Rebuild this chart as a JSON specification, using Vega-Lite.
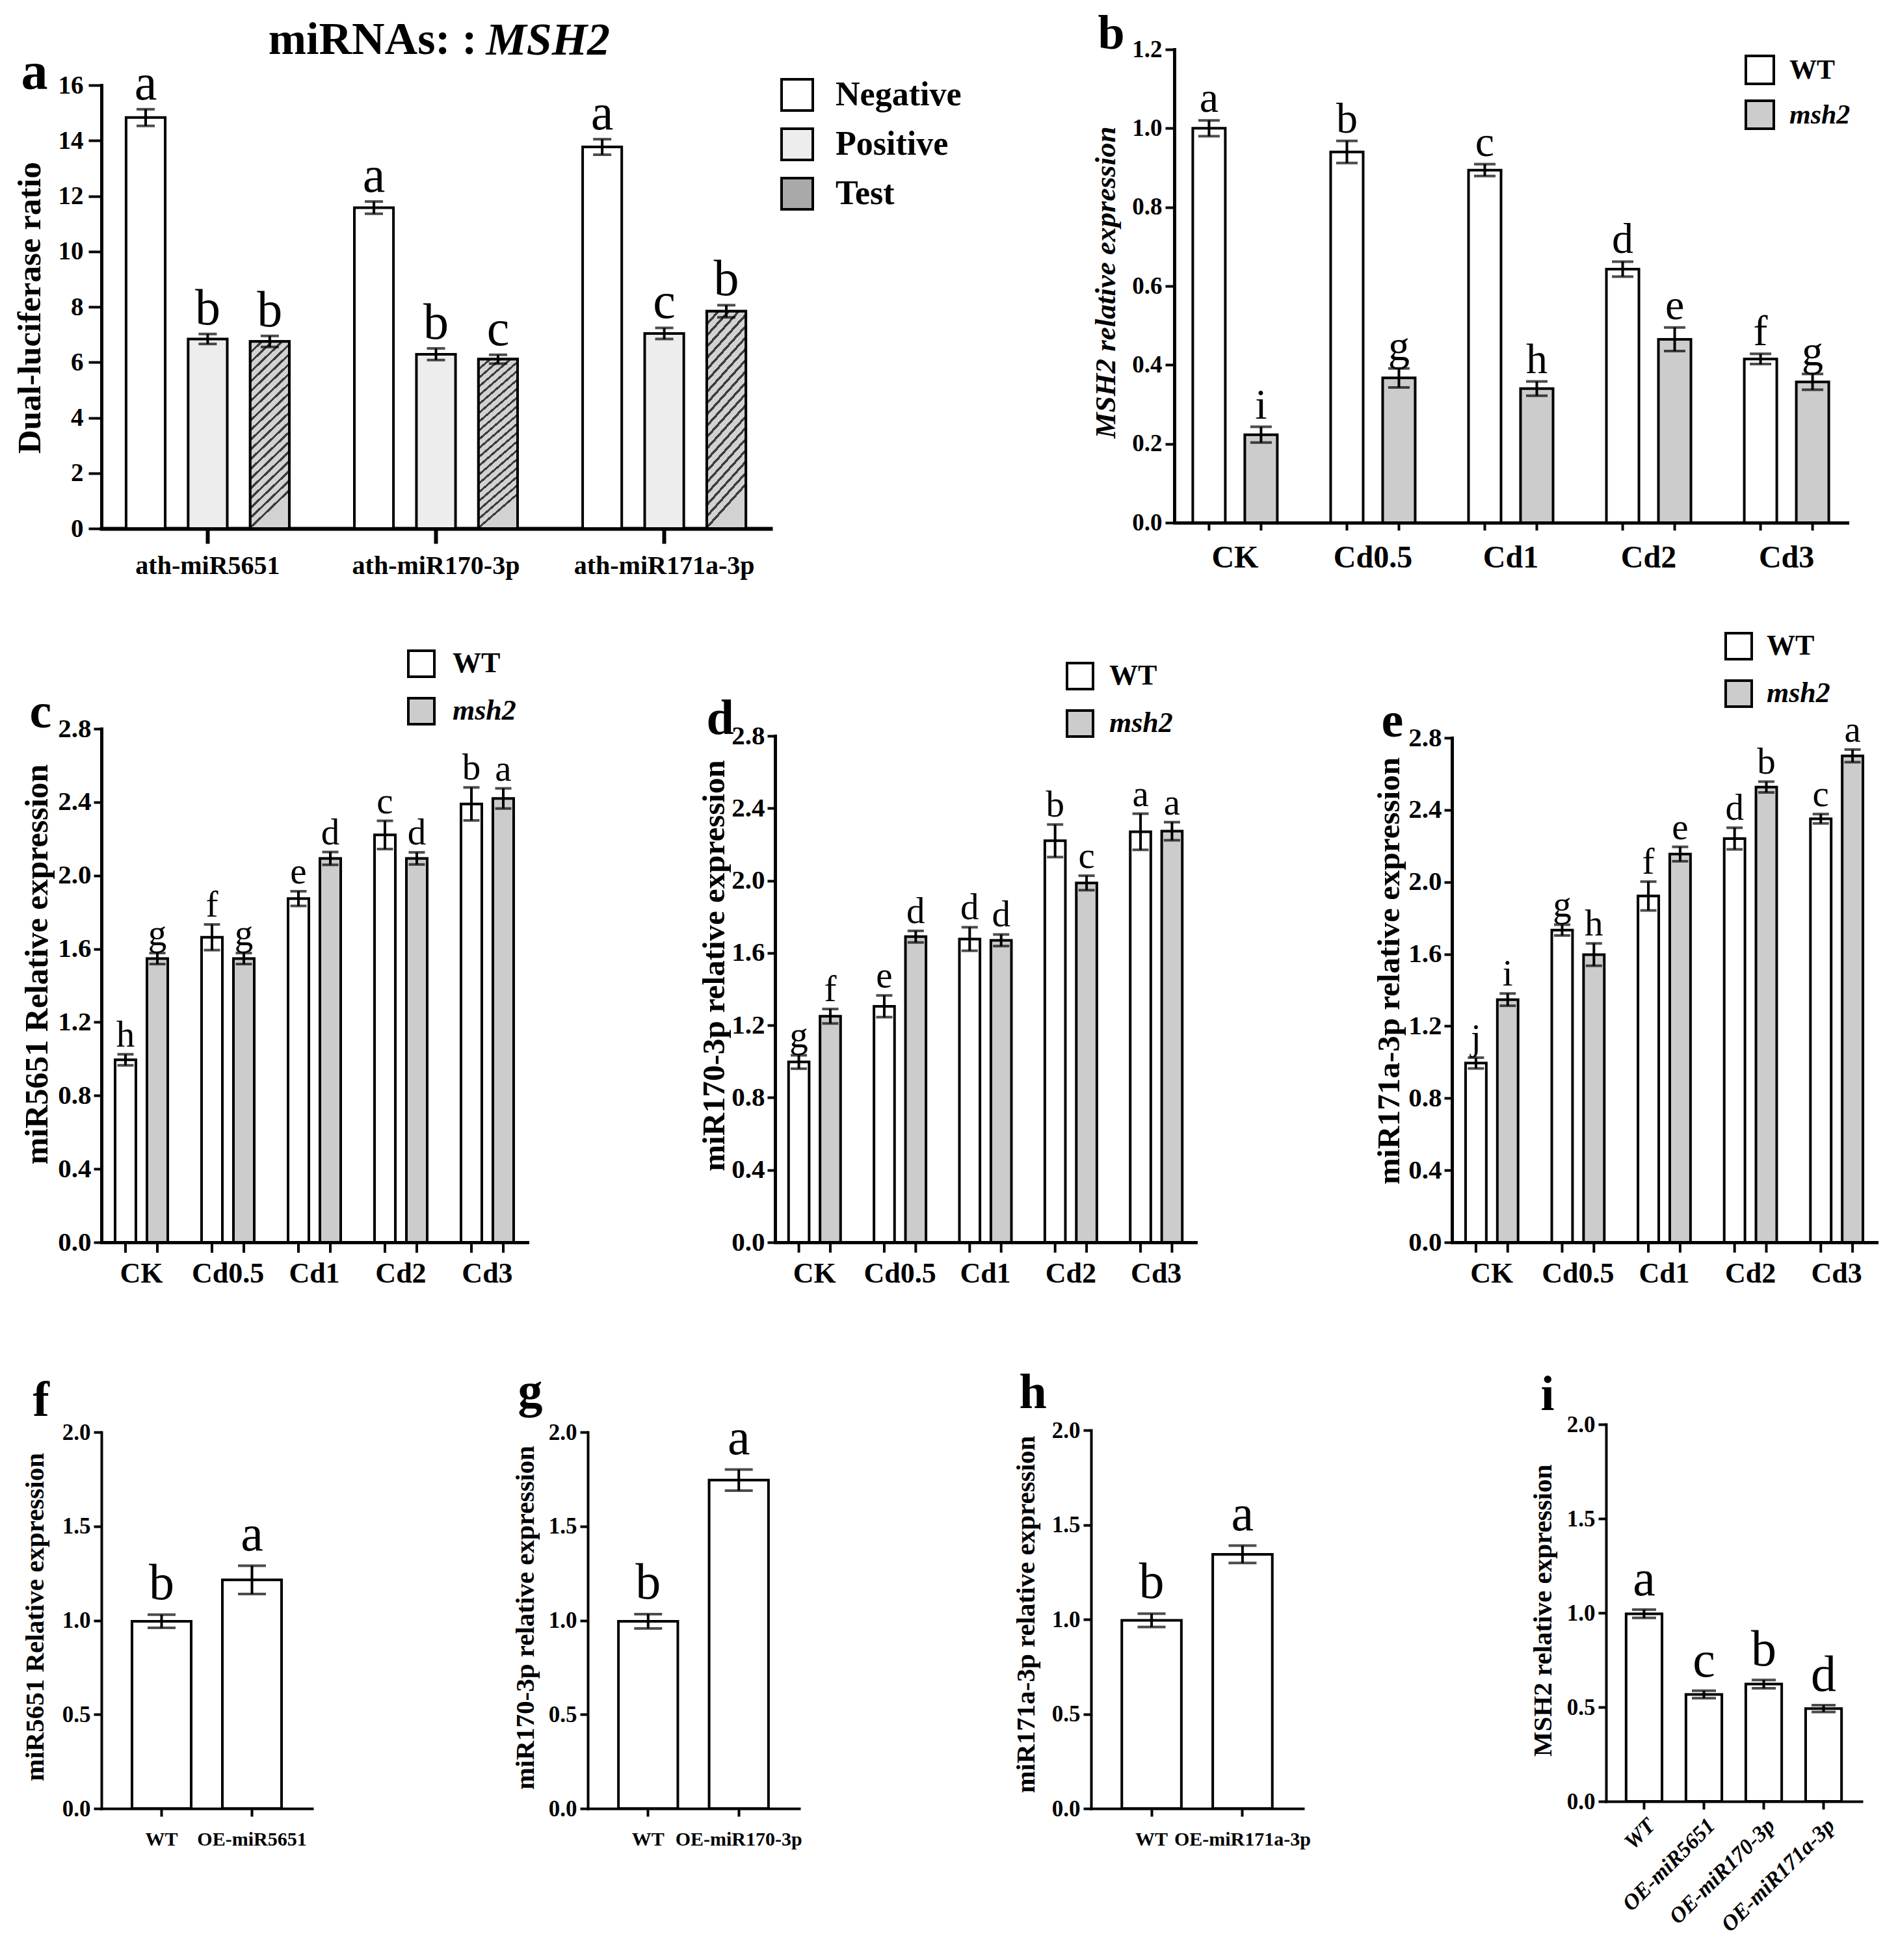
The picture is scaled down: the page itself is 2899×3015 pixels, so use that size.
{
  "$schema": "https://vega.github.io/schema/vega-lite/v6.json",
  "background": "white",
  "padding": {"left": 20, "top": 15, "right": 10, "bottom": 10},
  "config": {
    "view": {"stroke": null},
    "axis": {
      "domainColor": "black", "tickColor": "black", "labelColor": "black", "titleColor": "black",
      "labelFont": "Liberation Serif", "titleFont": "Liberation Serif",
      "labelFontWeight": "bold", "titleFontWeight": "bold", "grid": false,
      "labelLimit": 0, "titleLimit": 0, "labelOverlap": false, "domainCap": "square",
      "titleBaseline": "alphabetic"
    },
    "legend": {"labelLimit": 0, "labelFont": "Liberation Serif", "labelFontWeight": "bold", "labelColor": "black"},
    "text": {"font": "Liberation Serif", "color": "black"}
  },
  "datasets": {
    "A": [
      {"c": "ath-miR5651", "g": "Negative", "v": 14.83, "lo": 14.53, "hi": 15.13, "l": "a"},
      {"c": "ath-miR5651", "g": "Positive", "v": 6.84, "lo": 6.66, "hi": 7.02, "l": "b"},
      {"c": "ath-miR5651", "g": "Test", "v": 6.75, "lo": 6.55, "hi": 6.95, "l": "b"},
      {"c": "ath-miR170-3p", "g": "Negative", "v": 11.58, "lo": 11.36, "hi": 11.8, "l": "a"},
      {"c": "ath-miR170-3p", "g": "Positive", "v": 6.29, "lo": 6.08, "hi": 6.5, "l": "b"},
      {"c": "ath-miR170-3p", "g": "Test", "v": 6.11, "lo": 5.95, "hi": 6.27, "l": "c"},
      {"c": "ath-miR171a-3p", "g": "Negative", "v": 13.77, "lo": 13.49, "hi": 14.05, "l": "a"},
      {"c": "ath-miR171a-3p", "g": "Positive", "v": 7.04, "lo": 6.84, "hi": 7.24, "l": "c"},
      {"c": "ath-miR171a-3p", "g": "Test", "v": 7.84, "lo": 7.62, "hi": 8.06, "l": "b"}
    ],
    "B": [
      {"c": "CK", "g": "WT", "v": 1.0, "lo": 0.98, "hi": 1.02, "l": "a"},
      {"c": "CK", "g": "msh2", "v": 0.223, "lo": 0.203, "hi": 0.243, "l": "i"},
      {"c": "Cd0.5", "g": "WT", "v": 0.94, "lo": 0.912, "hi": 0.968, "l": "b"},
      {"c": "Cd0.5", "g": "msh2", "v": 0.367, "lo": 0.343, "hi": 0.391, "l": "g"},
      {"c": "Cd1", "g": "WT", "v": 0.894, "lo": 0.879, "hi": 0.909, "l": "c"},
      {"c": "Cd1", "g": "msh2", "v": 0.34, "lo": 0.322, "hi": 0.358, "l": "h"},
      {"c": "Cd2", "g": "WT", "v": 0.643, "lo": 0.624, "hi": 0.662, "l": "d"},
      {"c": "Cd2", "g": "msh2", "v": 0.465, "lo": 0.435, "hi": 0.495, "l": "e"},
      {"c": "Cd3", "g": "WT", "v": 0.415, "lo": 0.402, "hi": 0.428, "l": "f"},
      {"c": "Cd3", "g": "msh2", "v": 0.357, "lo": 0.337, "hi": 0.377, "l": "g"}
    ],
    "C": [
      {"c": "CK", "g": "WT", "v": 0.995, "lo": 0.965, "hi": 1.025, "l": "h"},
      {"c": "CK", "g": "msh2", "v": 1.547, "lo": 1.517, "hi": 1.577, "l": "g"},
      {"c": "Cd0.5", "g": "WT", "v": 1.663, "lo": 1.593, "hi": 1.733, "l": "f"},
      {"c": "Cd0.5", "g": "msh2", "v": 1.547, "lo": 1.517, "hi": 1.577, "l": "g"},
      {"c": "Cd1", "g": "WT", "v": 1.874, "lo": 1.834, "hi": 1.914, "l": "e"},
      {"c": "Cd1", "g": "msh2", "v": 2.093, "lo": 2.058, "hi": 2.128, "l": "d"},
      {"c": "Cd2", "g": "WT", "v": 2.221, "lo": 2.144, "hi": 2.298, "l": "c"},
      {"c": "Cd2", "g": "msh2", "v": 2.093, "lo": 2.06, "hi": 2.126, "l": "d"},
      {"c": "Cd3", "g": "WT", "v": 2.39, "lo": 2.3, "hi": 2.48, "l": "b"},
      {"c": "Cd3", "g": "msh2", "v": 2.42, "lo": 2.365, "hi": 2.475, "l": "a"}
    ],
    "D": [
      {"c": "CK", "g": "WT", "v": 0.997, "lo": 0.96, "hi": 1.034, "l": "g"},
      {"c": "CK", "g": "msh2", "v": 1.25, "lo": 1.21, "hi": 1.29, "l": "f"},
      {"c": "Cd0.5", "g": "WT", "v": 1.305, "lo": 1.245, "hi": 1.365, "l": "e"},
      {"c": "Cd0.5", "g": "msh2", "v": 1.69, "lo": 1.658, "hi": 1.722, "l": "d"},
      {"c": "Cd1", "g": "WT", "v": 1.677, "lo": 1.612, "hi": 1.742, "l": "d"},
      {"c": "Cd1", "g": "msh2", "v": 1.67, "lo": 1.638, "hi": 1.702, "l": "d"},
      {"c": "Cd2", "g": "WT", "v": 2.22, "lo": 2.13, "hi": 2.31, "l": "b"},
      {"c": "Cd2", "g": "msh2", "v": 1.987, "lo": 1.947, "hi": 2.027, "l": "c"},
      {"c": "Cd3", "g": "WT", "v": 2.27, "lo": 2.17, "hi": 2.37, "l": "a"},
      {"c": "Cd3", "g": "msh2", "v": 2.273, "lo": 2.223, "hi": 2.323, "l": "a"}
    ],
    "E": [
      {"c": "CK", "g": "WT", "v": 0.995, "lo": 0.965, "hi": 1.025, "l": "j"},
      {"c": "CK", "g": "msh2", "v": 1.347, "lo": 1.313, "hi": 1.381, "l": "i"},
      {"c": "Cd0.5", "g": "WT", "v": 1.733, "lo": 1.703, "hi": 1.763, "l": "g"},
      {"c": "Cd0.5", "g": "msh2", "v": 1.597, "lo": 1.535, "hi": 1.659, "l": "h"},
      {"c": "Cd1", "g": "WT", "v": 1.922, "lo": 1.842, "hi": 2.002, "l": "f"},
      {"c": "Cd1", "g": "msh2", "v": 2.155, "lo": 2.115, "hi": 2.195, "l": "e"},
      {"c": "Cd2", "g": "WT", "v": 2.241, "lo": 2.181, "hi": 2.301, "l": "d"},
      {"c": "Cd2", "g": "msh2", "v": 2.527, "lo": 2.497, "hi": 2.557, "l": "b"},
      {"c": "Cd3", "g": "WT", "v": 2.351, "lo": 2.325, "hi": 2.377, "l": "c"},
      {"c": "Cd3", "g": "msh2", "v": 2.7, "lo": 2.665, "hi": 2.735, "l": "a"}
    ],
    "F": [
      {"c": "WT", "v": 0.995, "lo": 0.96, "hi": 1.03, "l": "b"},
      {"c": "OE-miR5651", "v": 1.215, "lo": 1.14, "hi": 1.29, "l": "a"}
    ],
    "G": [
      {"c": "WT", "v": 0.995, "lo": 0.957, "hi": 1.033, "l": "b"},
      {"c": "OE-miR170-3p", "v": 1.745, "lo": 1.689, "hi": 1.801, "l": "a"}
    ],
    "H": [
      {"c": "WT", "v": 0.995, "lo": 0.96, "hi": 1.03, "l": "b"},
      {"c": "OE-miR171a-3p", "v": 1.344, "lo": 1.298, "hi": 1.39, "l": "a"}
    ],
    "I": [
      {"c": "WT", "v": 0.995, "lo": 0.973, "hi": 1.017, "l": "a"},
      {"c": "OE-miR5651", "v": 0.567, "lo": 0.547, "hi": 0.587, "l": "c"},
      {"c": "OE-miR170-3p", "v": 0.622, "lo": 0.6, "hi": 0.644, "l": "b"},
      {"c": "OE-miR171a-3p", "v": 0.492, "lo": 0.474, "hi": 0.51, "l": "d"}
    ]
  },
  "columns": 7,
  "align": "each",
  "bounds": "flush",
  "spacing": {"row": 280, "column": 0},
  "resolve": {"scale": {"fill": "independent", "xOffset": "independent", "x": "independent", "y": "independent"}, "legend": {"fill": "independent"}},
  "concat": [
    {
      "width": 748, "height": 737,
      "data": {"name": "A"},
      "encoding": {
        "x": {"field": "c", "type": "nominal", "sort": null, "scale": {"paddingInner": 0.285, "paddingOuter": 0.108, "range": [0, 1029]}, "axis": null},
        "xOffset": {"field": "g", "type": "nominal", "sort": ["Negative", "Positive", "Test"], "scale": {"paddingInner": 0.37, "paddingOuter": 0}}
      },
      "layer": [
        {
          "mark": {"type": "bar", "stroke": "black", "strokeWidth": 4},
          "encoding": {
            "x": {"field": "c", "type": "nominal", "sort": null, "scale": {"paddingInner": 0.285, "paddingOuter": 0.108, "range": [0, 1029]},
              "axis": {"title": null, "labelAngle": 0, "labelFontSize": 40, "labelPadding": 14, "tickSize": 23, "tickWidth": 6, "domainWidth": 6}},
            "y": {"field": "v", "type": "quantitative", "scale": {"domain": [0, 16], "nice": false, "range": [737, 55]},
              "axis": {"values": [0, 2, 4, 6, 8, 10, 12, 14, 16], "title": "Dual-luciferase ratio", "titleFontSize": 51, "titleX": -95, "titleY": 397,
                "tickSize": 20, "tickWidth": 4, "domainWidth": 5, "labelFontSize": 39, "labelPadding": 8}},
            "fill": {"field": "g", "type": "nominal", "sort": ["Negative", "Positive", "Test"],
              "scale": {"domain": ["Negative", "Positive", "Test"], "range": ["#ffffff", "#ededed", "#a9a9a9"]},
              "legend": {"orient": "none", "legendX": 1044, "legendY": 44, "title": null, "direction": "vertical", "symbolType": "square", "symbolSize": 2304,
                "symbolStrokeWidth": 4, "symbolStrokeColor": "black", "symbolOpacity": 1, "labelFontSize": 52, "labelOffset": 33, "rowPadding": 12}}
          }
        },
        {
          "transform": [{"filter": "datum.g === 'Test'"}],
          "mark": {"type": "bar", "stroke": "black", "strokeWidth": 4,
            "fill": {"gradient": "linear", "x1": 0, "y1": 0, "x2": 0.2, "y2": 1, "stops": [
              {"offset": 0, "color": "#3c3c3c"}, {"offset": 0.015, "color": "#3c3c3c"}, {"offset": 0.015, "color": "#d2d2d2"}, {"offset": 0.05, "color": "#d2d2d2"},
              {"offset": 0.05, "color": "#3c3c3c"}, {"offset": 0.065, "color": "#3c3c3c"}, {"offset": 0.065, "color": "#d2d2d2"}, {"offset": 0.1, "color": "#d2d2d2"},
              {"offset": 0.1, "color": "#3c3c3c"}, {"offset": 0.115, "color": "#3c3c3c"}, {"offset": 0.115, "color": "#d2d2d2"}, {"offset": 0.15, "color": "#d2d2d2"},
              {"offset": 0.15, "color": "#3c3c3c"}, {"offset": 0.165, "color": "#3c3c3c"}, {"offset": 0.165, "color": "#d2d2d2"}, {"offset": 0.2, "color": "#d2d2d2"},
              {"offset": 0.2, "color": "#3c3c3c"}, {"offset": 0.215, "color": "#3c3c3c"}, {"offset": 0.215, "color": "#d2d2d2"}, {"offset": 0.25, "color": "#d2d2d2"},
              {"offset": 0.25, "color": "#3c3c3c"}, {"offset": 0.265, "color": "#3c3c3c"}, {"offset": 0.265, "color": "#d2d2d2"}, {"offset": 0.3, "color": "#d2d2d2"},
              {"offset": 0.3, "color": "#3c3c3c"}, {"offset": 0.315, "color": "#3c3c3c"}, {"offset": 0.315, "color": "#d2d2d2"}, {"offset": 0.35, "color": "#d2d2d2"},
              {"offset": 0.35, "color": "#3c3c3c"}, {"offset": 0.365, "color": "#3c3c3c"}, {"offset": 0.365, "color": "#d2d2d2"}, {"offset": 0.4, "color": "#d2d2d2"},
              {"offset": 0.4, "color": "#3c3c3c"}, {"offset": 0.415, "color": "#3c3c3c"}, {"offset": 0.415, "color": "#d2d2d2"}, {"offset": 0.45, "color": "#d2d2d2"},
              {"offset": 0.45, "color": "#3c3c3c"}, {"offset": 0.465, "color": "#3c3c3c"}, {"offset": 0.465, "color": "#d2d2d2"}, {"offset": 0.5, "color": "#d2d2d2"},
              {"offset": 0.5, "color": "#3c3c3c"}, {"offset": 0.515, "color": "#3c3c3c"}, {"offset": 0.515, "color": "#d2d2d2"}, {"offset": 0.55, "color": "#d2d2d2"},
              {"offset": 0.55, "color": "#3c3c3c"}, {"offset": 0.565, "color": "#3c3c3c"}, {"offset": 0.565, "color": "#d2d2d2"}, {"offset": 0.6, "color": "#d2d2d2"},
              {"offset": 0.6, "color": "#3c3c3c"}, {"offset": 0.615, "color": "#3c3c3c"}, {"offset": 0.615, "color": "#d2d2d2"}, {"offset": 0.65, "color": "#d2d2d2"},
              {"offset": 0.65, "color": "#3c3c3c"}, {"offset": 0.665, "color": "#3c3c3c"}, {"offset": 0.665, "color": "#d2d2d2"}, {"offset": 0.7, "color": "#d2d2d2"},
              {"offset": 0.7, "color": "#3c3c3c"}, {"offset": 0.715, "color": "#3c3c3c"}, {"offset": 0.715, "color": "#d2d2d2"}, {"offset": 0.75, "color": "#d2d2d2"},
              {"offset": 0.75, "color": "#3c3c3c"}, {"offset": 0.765, "color": "#3c3c3c"}, {"offset": 0.765, "color": "#d2d2d2"}, {"offset": 0.8, "color": "#d2d2d2"},
              {"offset": 0.8, "color": "#3c3c3c"}, {"offset": 0.815, "color": "#3c3c3c"}, {"offset": 0.815, "color": "#d2d2d2"}, {"offset": 0.85, "color": "#d2d2d2"},
              {"offset": 0.85, "color": "#3c3c3c"}, {"offset": 0.865, "color": "#3c3c3c"}, {"offset": 0.865, "color": "#d2d2d2"}, {"offset": 0.9, "color": "#d2d2d2"},
              {"offset": 0.9, "color": "#3c3c3c"}, {"offset": 0.915, "color": "#3c3c3c"}, {"offset": 0.915, "color": "#d2d2d2"}, {"offset": 0.95, "color": "#d2d2d2"},
              {"offset": 0.95, "color": "#3c3c3c"}, {"offset": 0.965, "color": "#3c3c3c"}, {"offset": 0.965, "color": "#d2d2d2"}, {"offset": 1, "color": "#d2d2d2"}
            ]}},
          "encoding": {"y": {"field": "v", "type": "quantitative", "axis": null}}
        },
        {
          "mark": {"type": "rule", "color": "black", "strokeWidth": 4},
          "encoding": {
            "y": {"field": "lo", "type": "quantitative",
              "axis": {"orient": "right", "title": "miRNAs:  :", "labels": false, "ticks": false, "domain": false, "titleAngle": 0.01, "titleAlign": "right",
                "titleBaseline": "alphabetic", "titleX": -171, "titleY": 7, "titleFontSize": 70}},
            "y2": {"field": "hi"}
          }
        },
        {"mark": {"type": "tick", "color": "black", "size": 28, "thickness": 4},
          "encoding": {"y": {"field": "hi", "type": "quantitative",
            "axis": {"orient": "right", "title": "MSH2", "labels": false, "ticks": false, "domain": false, "titleAngle": 0.01, "titleAlign": "left",
              "titleBaseline": "alphabetic", "titleX": -157, "titleY": 7, "titleFontSize": 70, "titleFontStyle": "italic"}}}},
        {"mark": {"type": "tick", "color": "black", "size": 28, "thickness": 4}, "encoding": {"y": {"field": "lo", "type": "quantitative", "axis": null}}},
        {
          "mark": {"type": "text", "baseline": "alphabetic", "dy": -15, "fontSize": 78},
          "encoding": {
            "x": {"field": "c", "type": "nominal", "sort": null, "scale": {"paddingInner": 0.285, "paddingOuter": 0.108, "range": [0, 1029]},
              "axis": {"orient": "top", "title": "a", "labels": false, "ticks": false, "domain": false, "titleFontSize": 82,
                "titleAlign": "left", "titleBaseline": "alphabetic", "titleX": -124, "titleY": 60}},
            "y": {"field": "hi", "type": "quantitative", "axis": null},
            "text": {"field": "l"}
          }
        }
      ],
      "resolve": {"axis": {"x": "independent", "y": "independent"}}
    },
    {"width": 288, "height": 1, "data": {"values": []}, "mark": "point", "encoding": {}},
    {"width": 486, "height": 1, "data": {"values": []}, "mark": "point", "encoding": {}},
    {"width": 128, "height": 1, "data": {"values": []}, "mark": "point", "encoding": {}},
    {
      "width": 427, "height": 737,
      "data": {"name": "B"},
      "encoding": {
        "x": {"field": "c", "type": "nominal", "sort": null, "scale": {"paddingInner": 0.387, "paddingOuter": 0.134, "range": [0, 1035]}, "axis": null},
        "xOffset": {"field": "g", "type": "nominal", "sort": ["WT", "msh2"], "scale": {"paddingInner": 0.375, "paddingOuter": 0}}
      },
      "layer": [
        {
          "mark": {"type": "bar", "stroke": "black", "strokeWidth": 4},
          "encoding": {
            "x": {"field": "c", "type": "nominal", "sort": null, "scale": {"paddingInner": 0.387, "paddingOuter": 0.134, "range": [0, 1035]},
              "axis": {"title": null, "labelAngle": 0, "ticks": false, "labelFontSize": 48, "labelPadding": 30, "offset": -9, "domainWidth": 5}},
            "y": {"field": "v", "type": "quantitative", "scale": {"domain": [0, 1.2], "nice": false, "range": [728, 0]},
              "axis": {"values": [0, 0.2, 0.4, 0.6, 0.8, 1.0, 1.2], "format": ".1f", "title": "MSH2 relative expression", "titleFontStyle": "italic",
                "titleFontSize": 45, "titleX": -92, "titleY": 358, "tickSize": 14, "tickWidth": 4, "domainWidth": 5, "labelFontSize": 37, "labelPadding": 5}},
            "fill": {"field": "g", "type": "nominal", "sort": ["WT", "msh2"], "scale": {"domain": ["WT", "msh2"], "range": ["#ffffff", "#cccccc"]},
              "legend": {"orient": "none", "legendX": 877, "legendY": 8, "title": null, "direction": "vertical", "symbolType": "square", "symbolSize": 1849,
                "symbolStrokeWidth": 4, "symbolStrokeColor": "black", "symbolOpacity": 1, "labelFontSize": 42, "labelOffset": 22, "rowPadding": 10,
                "encode": {"labels": {"update": {"fontStyle": {"signal": "datum.label === 'msh2' ? 'italic' : 'normal'"}}}}}}
          }
        },
        {"mark": {"type": "rule", "color": "black", "strokeWidth": 4}, "encoding": {"y": {"datum": 0, "axis": null}, "y2": {"datum": -0.02}}},
        {"mark": {"type": "rule", "color": "black", "strokeWidth": 4}, "encoding": {"y": {"field": "lo", "type": "quantitative", "axis": null}, "y2": {"field": "hi"}}},
        {"mark": {"type": "tick", "color": "black", "size": 33, "thickness": 4}, "encoding": {"y": {"field": "hi", "type": "quantitative", "axis": null}}},
        {"mark": {"type": "tick", "color": "black", "size": 33, "thickness": 4}, "encoding": {"y": {"field": "lo", "type": "quantitative", "axis": null}}},
        {
          "mark": {"type": "text", "baseline": "alphabetic", "dy": -13, "fontSize": 66},
          "encoding": {
            "x": {"field": "c", "type": "nominal", "sort": null, "scale": {"paddingInner": 0.387, "paddingOuter": 0.134, "range": [0, 1035]},
              "axis": {"orient": "top", "title": "b", "labels": false, "ticks": false, "domain": false, "titleFontSize": 74,
                "titleAlign": "left", "titleBaseline": "alphabetic", "titleX": -118, "titleY": -2}},
            "y": {"field": "hi", "type": "quantitative", "axis": null},
            "text": {"field": "l"}
          }
        }
      ],
      "resolve": {"axis": {"x": "independent", "y": "independent"}}
    },
    {"width": 237, "height": 1, "data": {"values": []}, "mark": "point", "encoding": {}},
    {"width": 393, "height": 1, "data": {"values": []}, "mark": "point", "encoding": {}},
    {
      "width": 655, "height": 818,
      "data": {"name": "C"},
      "encoding": {
        "x": {"field": "c", "type": "nominal", "sort": null, "scale": {"paddingInner": 0.391, "paddingOuter": 0.158, "range": [0, 655]}, "axis": null},
        "xOffset": {"field": "g", "type": "nominal", "sort": ["WT", "msh2"], "scale": {"paddingInner": 0.347, "paddingOuter": 0}}
      },
      "layer": [
        {
          "mark": {"type": "bar", "stroke": "black", "strokeWidth": 4},
          "encoding": {
            "x": {"field": "c", "type": "nominal", "sort": null, "scale": {"paddingInner": 0.391, "paddingOuter": 0.158, "range": [0, 655]},
              "axis": {"title": null, "labelAngle": 0, "ticks": false, "labelFontSize": 44, "labelPadding": 26, "domainWidth": 5}},
            "y": {"field": "v", "type": "quantitative", "scale": {"domain": [0, 2.8], "nice": false, "range": [818, 28]},
              "axis": {"values": [0, 0.4, 0.8, 1.2, 1.6, 2.0, 2.4, 2.8], "format": ".1f", "title": "miR5651 Relative expression",
                "titleFontSize": 50, "titleX": -84, "titleY": 390, "tickSize": 12, "tickWidth": 4, "domainWidth": 5, "labelFontSize": 41, "labelPadding": 4}},
            "fill": {"field": "g", "type": "nominal", "sort": ["WT", "msh2"], "scale": {"domain": ["WT", "msh2"], "range": ["#ffffff", "#cccccc"]},
              "legend": {"orient": "none", "legendX": 470, "legendY": -94, "title": null, "direction": "vertical", "symbolType": "square", "symbolSize": 1600,
                "symbolStrokeWidth": 4, "symbolStrokeColor": "black", "symbolOpacity": 1, "labelFontSize": 44, "labelOffset": 26, "rowPadding": 17,
                "encode": {"labels": {"update": {"fontStyle": {"signal": "datum.label === 'msh2' ? 'italic' : 'normal'"}}}}}}
          }
        },
        {"mark": {"type": "rule", "color": "black", "strokeWidth": 4}, "encoding": {"y": {"datum": 0, "axis": null}, "y2": {"datum": -0.057}}},
        {"mark": {"type": "rule", "color": "black", "strokeWidth": 4}, "encoding": {"y": {"field": "lo", "type": "quantitative", "axis": null}, "y2": {"field": "hi"}}},
        {"mark": {"type": "tick", "color": "black", "size": 25, "thickness": 4}, "encoding": {"y": {"field": "hi", "type": "quantitative", "axis": null}}},
        {"mark": {"type": "tick", "color": "black", "size": 25, "thickness": 4}, "encoding": {"y": {"field": "lo", "type": "quantitative", "axis": null}}},
        {
          "mark": {"type": "text", "baseline": "alphabetic", "dy": -12, "fontSize": 57},
          "encoding": {
            "x": {"field": "c", "type": "nominal", "sort": null, "scale": {"paddingInner": 0.391, "paddingOuter": 0.158, "range": [0, 655]},
              "axis": {"orient": "top", "title": "c", "labels": false, "ticks": false, "domain": false, "titleFontSize": 76,
                "titleAlign": "left", "titleBaseline": "alphabetic", "titleX": -111, "titleY": 25}},
            "y": {"field": "hi", "type": "quantitative", "axis": null},
            "text": {"field": "l"}
          }
        }
      ],
      "resolve": {"axis": {"x": "independent", "y": "independent"}}
    },
    {"width": 288, "height": 1, "data": {"values": []}, "mark": "point", "encoding": {}},
    {
      "width": 486, "height": 818,
      "data": {"name": "D"},
      "encoding": {
        "x": {"field": "c", "type": "nominal", "sort": null, "scale": {"paddingInner": 0.391, "paddingOuter": 0.158, "range": [0, 647]}, "axis": null},
        "xOffset": {"field": "g", "type": "nominal", "sort": ["WT", "msh2"], "scale": {"paddingInner": 0.347, "paddingOuter": 0}}
      },
      "layer": [
        {
          "mark": {"type": "bar", "stroke": "black", "strokeWidth": 4},
          "encoding": {
            "x": {"field": "c", "type": "nominal", "sort": null, "scale": {"paddingInner": 0.391, "paddingOuter": 0.158, "range": [0, 647]},
              "axis": {"title": null, "labelAngle": 0, "ticks": false, "labelFontSize": 44, "labelPadding": 26, "domainWidth": 5}},
            "y": {"field": "v", "type": "quantitative", "scale": {"domain": [0, 2.8], "nice": false, "range": [818, 39]},
              "axis": {"values": [0, 0.4, 0.8, 1.2, 1.6, 2.0, 2.4, 2.8], "format": ".1f", "title": "miR170-3p relative expression",
                "titleFontSize": 49, "titleX": -79, "titleY": 392, "tickSize": 12, "tickWidth": 4, "domainWidth": 5, "labelFontSize": 41, "labelPadding": 4}},
            "fill": {"field": "g", "type": "nominal", "sort": ["WT", "msh2"], "scale": {"domain": ["WT", "msh2"], "range": ["#ffffff", "#cccccc"]},
              "legend": {"orient": "none", "legendX": 447, "legendY": -75, "title": null, "direction": "vertical", "symbolType": "square", "symbolSize": 1600,
                "symbolStrokeWidth": 4, "symbolStrokeColor": "black", "symbolOpacity": 1, "labelFontSize": 44, "labelOffset": 23, "rowPadding": 17,
                "encode": {"labels": {"update": {"fontStyle": {"signal": "datum.label === 'msh2' ? 'italic' : 'normal'"}}}}}}
          }
        },
        {"mark": {"type": "rule", "color": "black", "strokeWidth": 4}, "encoding": {"y": {"datum": 0, "axis": null}, "y2": {"datum": -0.057}}},
        {"mark": {"type": "rule", "color": "black", "strokeWidth": 4}, "encoding": {"y": {"field": "lo", "type": "quantitative", "axis": null}, "y2": {"field": "hi"}}},
        {"mark": {"type": "tick", "color": "black", "size": 25, "thickness": 4}, "encoding": {"y": {"field": "hi", "type": "quantitative", "axis": null}}},
        {"mark": {"type": "tick", "color": "black", "size": 25, "thickness": 4}, "encoding": {"y": {"field": "lo", "type": "quantitative", "axis": null}}},
        {
          "mark": {"type": "text", "baseline": "alphabetic", "dy": -12, "fontSize": 57},
          "encoding": {
            "x": {"field": "c", "type": "nominal", "sort": null, "scale": {"paddingInner": 0.391, "paddingOuter": 0.158, "range": [0, 647]},
              "axis": {"orient": "top", "title": "d", "labels": false, "ticks": false, "domain": false, "titleFontSize": 76,
                "titleAlign": "left", "titleBaseline": "alphabetic", "titleX": -106, "titleY": 35}},
            "y": {"field": "hi", "type": "quantitative", "axis": null},
            "text": {"field": "l"}
          }
        }
      ],
      "resolve": {"axis": {"x": "independent", "y": "independent"}}
    },
    {"width": 128, "height": 1, "data": {"values": []}, "mark": "point", "encoding": {}},
    {"width": 427, "height": 1, "data": {"values": []}, "mark": "point", "encoding": {}},
    {
      "width": 237, "height": 818,
      "data": {"name": "E"},
      "encoding": {
        "x": {"field": "c", "type": "nominal", "sort": null, "scale": {"paddingInner": 0.391, "paddingOuter": 0.158, "range": [0, 653]}, "axis": null},
        "xOffset": {"field": "g", "type": "nominal", "sort": ["WT", "msh2"], "scale": {"paddingInner": 0.347, "paddingOuter": 0}}
      },
      "layer": [
        {
          "mark": {"type": "bar", "stroke": "black", "strokeWidth": 4},
          "encoding": {
            "x": {"field": "c", "type": "nominal", "sort": null, "scale": {"paddingInner": 0.391, "paddingOuter": 0.158, "range": [0, 653]},
              "axis": {"title": null, "labelAngle": 0, "ticks": false, "labelFontSize": 44, "labelPadding": 26, "domainWidth": 5}},
            "y": {"field": "v", "type": "quantitative", "scale": {"domain": [0, 2.8], "nice": false, "range": [818, 42]},
              "axis": {"values": [0, 0.4, 0.8, 1.2, 1.6, 2.0, 2.4, 2.8], "format": ".1f", "title": "miR171a-3p relative expression",
                "titleFontSize": 49, "titleX": -82, "titleY": 400, "tickSize": 12, "tickWidth": 4, "domainWidth": 5, "labelFontSize": 41, "labelPadding": 4}},
            "fill": {"field": "g", "type": "nominal", "sort": ["WT", "msh2"], "scale": {"domain": ["WT", "msh2"], "range": ["#ffffff", "#cccccc"]},
              "legend": {"orient": "none", "legendX": 419, "legendY": -121, "title": null, "direction": "vertical", "symbolType": "square", "symbolSize": 1600,
                "symbolStrokeWidth": 4, "symbolStrokeColor": "black", "symbolOpacity": 1, "labelFontSize": 44, "labelOffset": 21, "rowPadding": 17,
                "encode": {"labels": {"update": {"fontStyle": {"signal": "datum.label === 'msh2' ? 'italic' : 'normal'"}}}}}}
          }
        },
        {"mark": {"type": "rule", "color": "black", "strokeWidth": 4}, "encoding": {"y": {"datum": 0, "axis": null}, "y2": {"datum": -0.057}}},
        {"mark": {"type": "rule", "color": "black", "strokeWidth": 4}, "encoding": {"y": {"field": "lo", "type": "quantitative", "axis": null}, "y2": {"field": "hi"}}},
        {"mark": {"type": "tick", "color": "black", "size": 25, "thickness": 4}, "encoding": {"y": {"field": "hi", "type": "quantitative", "axis": null}}},
        {"mark": {"type": "tick", "color": "black", "size": 25, "thickness": 4}, "encoding": {"y": {"field": "lo", "type": "quantitative", "axis": null}}},
        {
          "mark": {"type": "text", "baseline": "alphabetic", "dy": -12, "fontSize": 57},
          "encoding": {
            "x": {"field": "c", "type": "nominal", "sort": null, "scale": {"paddingInner": 0.391, "paddingOuter": 0.158, "range": [0, 653]},
              "axis": {"orient": "top", "title": "e", "labels": false, "ticks": false, "domain": false, "titleFontSize": 76,
                "titleAlign": "left", "titleBaseline": "alphabetic", "titleX": -109, "titleY": 39}},
            "y": {"field": "hi", "type": "quantitative", "axis": null},
            "text": {"field": "l"}
          }
        }
      ],
      "resolve": {"axis": {"x": "independent", "y": "independent"}}
    },
    {"width": 393, "height": 1, "data": {"values": []}, "mark": "point", "encoding": {}},
    {
      "width": 324, "height": 591,
      "data": {"name": "F"},
      "encoding": {
        "x": {"field": "c", "type": "nominal", "sort": null, "scale": {"paddingInner": 0.345, "paddingOuter": 0.338, "range": [0, 324]}, "axis": null}
      },
      "layer": [
        {
          "mark": {"type": "bar", "fill": "white", "stroke": "black", "strokeWidth": 4},
          "encoding": {
            "x": {"field": "c", "type": "nominal", "sort": null, "scale": {"paddingInner": 0.345, "paddingOuter": 0.338, "range": [0, 324]},
              "axis": {"title": null, "labelAngle": 0, "labelFontSize": 30, "labelPadding": 20, "tickSize": 12, "tickWidth": 4, "domainWidth": 4}},
            "y": {"field": "v", "type": "quantitative", "scale": {"domain": [0, 2], "nice": false, "range": [591, 12]},
              "axis": {"values": [0, 0.5, 1, 1.5, 2], "format": ".1f", "title": "miR5651 Relative expression",
                "titleFontSize": 41, "titleX": -90, "titleY": 296, "tickSize": 12, "tickWidth": 4, "domainWidth": 4, "labelFontSize": 35, "labelPadding": 5}}
          }
        },
        {"mark": {"type": "rule", "color": "black", "strokeWidth": 4}, "encoding": {"y": {"field": "lo", "type": "quantitative", "axis": null}, "y2": {"field": "hi"}}},
        {"mark": {"type": "tick", "color": "black", "size": 43, "thickness": 4}, "encoding": {"y": {"field": "hi", "type": "quantitative", "axis": null}}},
        {"mark": {"type": "tick", "color": "black", "size": 43, "thickness": 4}, "encoding": {"y": {"field": "lo", "type": "quantitative", "axis": null}}},
        {
          "mark": {"type": "text", "baseline": "alphabetic", "dy": -24, "fontSize": 78},
          "encoding": {
            "x": {"field": "c", "type": "nominal", "sort": null, "scale": {"paddingInner": 0.345, "paddingOuter": 0.338, "range": [0, 324]},
              "axis": {"orient": "top", "title": "f", "labels": false, "ticks": false, "domain": false, "titleFontSize": 76,
                "titleAlign": "left", "titleBaseline": "alphabetic", "titleX": -106, "titleY": -14}},
            "y": {"field": "hi", "type": "quantitative", "axis": null},
            "text": {"field": "l"}
          }
        }
      ],
      "resolve": {"axis": {"x": "independent", "y": "independent"}}
    },
    {
      "width": 288, "height": 591,
      "data": {"name": "G"},
      "encoding": {
        "x": {"field": "c", "type": "nominal", "sort": null, "scale": {"paddingInner": 0.345, "paddingOuter": 0.338, "range": [0, 325]}, "axis": null}
      },
      "layer": [
        {
          "mark": {"type": "bar", "fill": "white", "stroke": "black", "strokeWidth": 4},
          "encoding": {
            "x": {"field": "c", "type": "nominal", "sort": null, "scale": {"paddingInner": 0.345, "paddingOuter": 0.338, "range": [0, 325]},
              "axis": {"title": null, "labelAngle": 0, "labelFontSize": 30, "labelPadding": 20, "tickSize": 12, "tickWidth": 4, "domainWidth": 4}},
            "y": {"field": "v", "type": "quantitative", "scale": {"domain": [0, 2], "nice": false, "range": [591, 12]},
              "axis": {"values": [0, 0.5, 1, 1.5, 2], "format": ".1f", "title": "miR170-3p relative expression",
                "titleFontSize": 41, "titleX": -84, "titleY": 297, "tickSize": 12, "tickWidth": 4, "domainWidth": 4, "labelFontSize": 35, "labelPadding": 5}}
          }
        },
        {"mark": {"type": "rule", "color": "black", "strokeWidth": 4}, "encoding": {"y": {"field": "lo", "type": "quantitative", "axis": null}, "y2": {"field": "hi"}}},
        {"mark": {"type": "tick", "color": "black", "size": 43, "thickness": 4}, "encoding": {"y": {"field": "hi", "type": "quantitative", "axis": null}}},
        {"mark": {"type": "tick", "color": "black", "size": 43, "thickness": 4}, "encoding": {"y": {"field": "lo", "type": "quantitative", "axis": null}}},
        {
          "mark": {"type": "text", "baseline": "alphabetic", "dy": -24, "fontSize": 78},
          "encoding": {
            "x": {"field": "c", "type": "nominal", "sort": null, "scale": {"paddingInner": 0.345, "paddingOuter": 0.338, "range": [0, 325]},
              "axis": {"orient": "top", "title": "g", "labels": false, "ticks": false, "domain": false, "titleFontSize": 76,
                "titleAlign": "left", "titleBaseline": "alphabetic", "titleX": -108, "titleY": -27}},
            "y": {"field": "hi", "type": "quantitative", "axis": null},
            "text": {"field": "l"}
          }
        }
      ],
      "resolve": {"axis": {"x": "independent", "y": "independent"}}
    },
    {"width": 486, "height": 1, "data": {"values": []}, "mark": "point", "encoding": {}},
    {
      "width": 128, "height": 591,
      "data": {"name": "H"},
      "encoding": {
        "x": {"field": "c", "type": "nominal", "sort": null, "scale": {"paddingInner": 0.345, "paddingOuter": 0.338, "range": [0, 326]}, "axis": null}
      },
      "layer": [
        {
          "mark": {"type": "bar", "fill": "white", "stroke": "black", "strokeWidth": 4},
          "encoding": {
            "x": {"field": "c", "type": "nominal", "sort": null, "scale": {"paddingInner": 0.345, "paddingOuter": 0.338, "range": [0, 326]},
              "axis": {"title": null, "labelAngle": 0, "labelFontSize": 30, "labelPadding": 20, "tickSize": 12, "tickWidth": 4, "domainWidth": 4}},
            "y": {"field": "v", "type": "quantitative", "scale": {"domain": [0, 2], "nice": false, "range": [591, 9]},
              "axis": {"values": [0, 0.5, 1, 1.5, 2], "format": ".1f", "title": "miR171a-3p relative expression",
                "titleFontSize": 41, "titleX": -88, "titleY": 292, "tickSize": 12, "tickWidth": 4, "domainWidth": 4, "labelFontSize": 35, "labelPadding": 5}}
          }
        },
        {"mark": {"type": "rule", "color": "black", "strokeWidth": 4}, "encoding": {"y": {"field": "lo", "type": "quantitative", "axis": null}, "y2": {"field": "hi"}}},
        {"mark": {"type": "tick", "color": "black", "size": 43, "thickness": 4}, "encoding": {"y": {"field": "hi", "type": "quantitative", "axis": null}}},
        {"mark": {"type": "tick", "color": "black", "size": 43, "thickness": 4}, "encoding": {"y": {"field": "lo", "type": "quantitative", "axis": null}}},
        {
          "mark": {"type": "text", "baseline": "alphabetic", "dy": -24, "fontSize": 78},
          "encoding": {
            "x": {"field": "c", "type": "nominal", "sort": null, "scale": {"paddingInner": 0.345, "paddingOuter": 0.338, "range": [0, 326]},
              "axis": {"orient": "top", "title": "h", "labels": false, "ticks": false, "domain": false, "titleFontSize": 76,
                "titleAlign": "left", "titleBaseline": "alphabetic", "titleX": -111, "titleY": -26}},
            "y": {"field": "hi", "type": "quantitative", "axis": null},
            "text": {"field": "l"}
          }
        }
      ],
      "resolve": {"axis": {"x": "independent", "y": "independent"}}
    },
    {"width": 427, "height": 1, "data": {"values": []}, "mark": "point", "encoding": {}},
    {"width": 237, "height": 1, "data": {"values": []}, "mark": "point", "encoding": {}},
    {
      "width": 393, "height": 591,
      "data": {"name": "I"},
      "encoding": {
        "x": {"field": "c", "type": "nominal", "sort": null, "scale": {"paddingInner": 0.4, "paddingOuter": 0.335}, "axis": null}
      },
      "layer": [
        {
          "mark": {"type": "bar", "fill": "white", "stroke": "black", "strokeWidth": 4},
          "encoding": {
            "x": {"field": "c", "type": "nominal", "sort": null, "scale": {"paddingInner": 0.4, "paddingOuter": 0.335},
              "axis": {"title": null, "labelAngle": -45, "labelFontStyle": "italic", "labelFontSize": 34, "labelPadding": 8, "tickSize": 12, "tickWidth": 4, "domainWidth": 4, "offset": -11}},
            "y": {"field": "v", "type": "quantitative", "scale": {"domain": [0, 2], "nice": false, "range": [580, 0]},
              "axis": {"values": [0, 0.5, 1, 1.5, 2], "format": ".1f", "title": "MSH2 relative expression",
                "titleFontSize": 41, "titleX": -85, "titleY": 286, "tickSize": 12, "tickWidth": 4, "domainWidth": 4, "labelFontSize": 35, "labelPadding": 5}}
          }
        },
        {"mark": {"type": "rule", "color": "black", "strokeWidth": 4}, "encoding": {"y": {"field": "lo", "type": "quantitative", "axis": null}, "y2": {"field": "hi"}}},
        {"mark": {"type": "tick", "color": "black", "size": 37, "thickness": 4}, "encoding": {"y": {"field": "hi", "type": "quantitative", "axis": null}}},
        {"mark": {"type": "tick", "color": "black", "size": 37, "thickness": 4}, "encoding": {"y": {"field": "lo", "type": "quantitative", "axis": null}}},
        {
          "mark": {"type": "text", "baseline": "alphabetic", "dy": -22, "fontSize": 78},
          "encoding": {
            "x": {"field": "c", "type": "nominal", "sort": null, "scale": {"paddingInner": 0.4, "paddingOuter": 0.335},
              "axis": {"orient": "top", "title": "i", "labels": false, "ticks": false, "domain": false, "titleFontSize": 76,
                "titleAlign": "left", "titleBaseline": "alphabetic", "titleX": -101, "titleY": -23}},
            "y": {"field": "hi", "type": "quantitative", "axis": null},
            "text": {"field": "l"}
          }
        }
      ],
      "resolve": {"axis": {"x": "independent", "y": "independent"}}
    }
  ]
}
